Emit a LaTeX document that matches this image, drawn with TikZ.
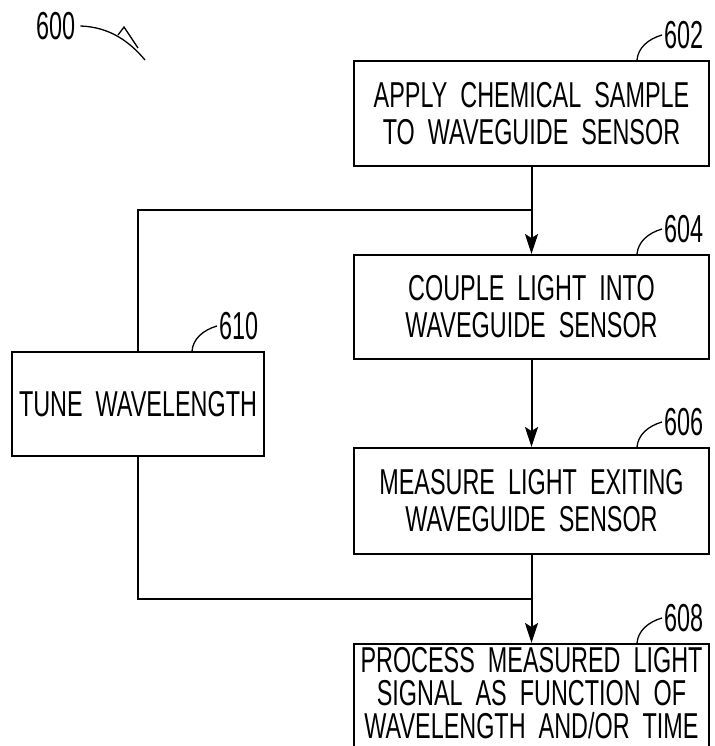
\documentclass[tikz,border=0pt]{standalone}
\usepackage{fontspec}
\setmainfont{Liberation Sans}[FakeStretch=0.65,WordSpace=2]
\newfontfamily\numfont{Liberation Sans}[FakeStretch=0.6]
\usetikzlibrary{arrows.meta}
\begin{document}
\begin{tikzpicture}[x=1pt,y=-1pt,
  box/.style={draw=black, line width=2pt, minimum width=355pt, inner sep=0pt, align=center, font=\fontsize{36}{37}\selectfont},
  boxtext/.style={inner sep=0pt, align=center, font=\fontsize{36}{33}\selectfont},
  flow/.style={line width=2pt, -{Stealth[length=20pt,width=13pt,inset=4pt]}},
  link/.style={line width=2pt},
  refnum/.style={anchor=west, inner sep=0pt, font=\numfont\fontsize{39}{39}\selectfont},
  leader/.style={line width=1.3pt}]
\useasboundingbox (0,0) rectangle (714,746);

% boxes
\node[box, minimum height=105pt] (n602) at (531.5,113.5) {APPLY CHEMICAL SAMPLE\\TO WAVEGUIDE SENSOR};
\node[box, minimum height=104pt] (n604) at (531.5,307) {COUPLE LIGHT INTO\\WAVEGUIDE SENSOR};
\node[box, minimum height=106pt] (n606) at (531.5,501) {MEASURE LIGHT EXITING\\WAVEGUIDE SENSOR};
\node[box, minimum height=120pt] (n608) at (531.5,704) {};
\node[boxtext] (t608) at (531.5,693) {PROCESS MEASURED LIGHT\\SIGNAL AS FUNCTION OF\\WAVELENGTH AND/OR TIME};
\node[box, minimum width=252pt, minimum height=104pt] (n610) at (138,404) {TUNE WAVELENGTH};

% junctions
\coordinate (j1) at (n602.south |- 0,210);
\coordinate (j2) at (n606.south |- 0,599);

% connectors
\draw[flow] (n602.south) -- (n604.north);
\draw[link] (n610.north) |- (j1);
\draw[flow] (n604.south) -- (n606.north);
\draw[flow] (n606.south) -- (n608.north);
\draw[link] (n610.south) |- (j2);

% reference numerals and leaders
\foreach \b/\t in {n602/602,n604/604,n606/606,n610/610}{
  \node[refnum] (l\t) at ([xshift=-46pt,yshift=25pt]\b.north east) {\t};
  \draw[leader] ([xshift=-73pt]\b.north east) .. controls ([xshift=-72pt,yshift=12pt]\b.north east) and ([xshift=-62pt,yshift=21pt]\b.north east) .. ([xshift=-2pt]l\t.west);
}
\node[refnum] (l608) at ([xshift=-46pt,yshift=25pt]n608.north east) {608};
\draw[leader] ([xshift=-73pt]n608.north east) .. controls ([xshift=-72pt,yshift=12pt]n608.north east) and ([xshift=-62pt,yshift=21pt]n608.north east) .. ([xshift=-2pt]l608.west);

% 600
\node[refnum] (l600) at (36,26) {600};
\coordinate (t600) at (145,60);
\draw[leader] ([xshift=5pt]l600.east) .. controls (110,27) and (130,42) .. (t600);
\draw[leader] (118,35) -- (124,27) -- (138,48);
\end{tikzpicture}
\end{document}
